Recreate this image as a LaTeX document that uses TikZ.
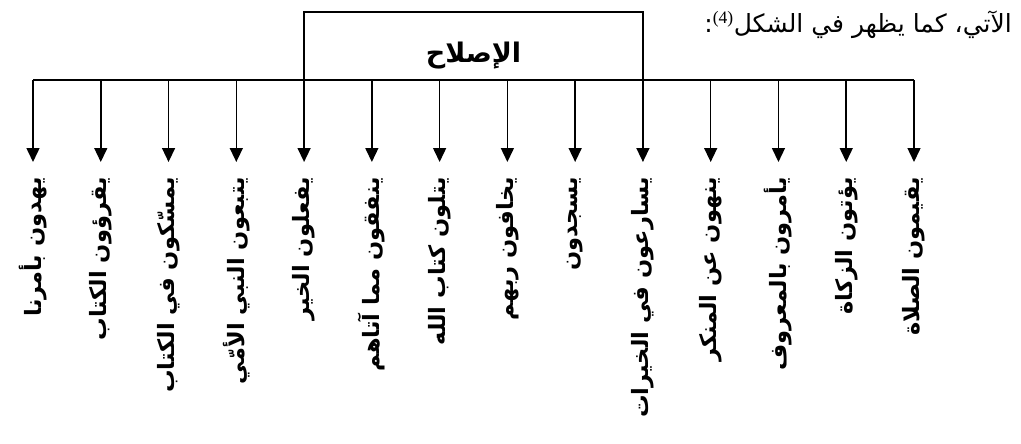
\documentclass[tikz,border=0pt]{standalone}
\usepackage{fontspec}
\usetikzlibrary{arrows.meta}
\TeXXeTstate=1
\newfontfamily\arabicfont[Script=Arabic,BoldFont={DejaVu Sans Bold}]{DejaVu Sans}
\newfontfamily\supfont{Liberation Serif}
\newcommand\lblfont{\arabicfont\bfseries\fontsize{22.5}{26}\selectfont}
\begin{document}
\begin{tikzpicture}[x=1pt,y=-1pt,
  busline/.style={line width=1.5pt},
  arr/.style={line width=1.5pt,-{Triangle[length=14pt,width=13pt]},shorten >=15pt},
  lbl/.style={rotate=90, anchor=east, inner sep=0pt},
  rootbox/.style={draw, line width=1.5pt, minimum width=339pt, minimum height=68pt, inner sep=0pt},
  roottitle/.style={inner sep=0pt},
  introtext/.style={anchor=base east, inner sep=0pt}]
\useasboundingbox (0,0) rectangle (1021,444);
\node[introtext] (intro) at (1012,33) {\arabicfont\fontsize{25}{29}\selectfont\beginR الآتي، كما يظهر في الشكل\textsuperscript{\supfont(4)}:\endR};
\node[rootbox] (root) at (473.5,46) {};
\node[roottitle] (title) at ([yshift=-10pt]root.center) {\arabicfont\bfseries\fontsize{27}{30}\selectfont\beginR الإصلاح\endR};
\coordinate (bl) at (33,80);
\coordinate (br) at (914,80);
\draw[busline] (bl) -- (br);
\foreach \i/\lab in {1/يهدون بأمرنا,2/يقرؤون الكتاب,3/يمسّكون في الكتاب,4/يتبعون النبي الأمّي,5/يفعلون الخير,6/ينفقون مما آتاهم,7/يتلون كتاب الله,8/يخافون ربهم,9/يسجدون,10/يسارعون في الخيرات,11/ينهون عن المنكر,12/يأمرون بالمعروف,13/يؤتون الزكاة,14/يقيمون الصلاة}{
  \pgfmathsetmacro{\xx}{33+(\i-1)*67.77}
  \coordinate (b\i) at (\xx,80);
  \node[lbl] (l\i) at (\xx,177) {\lblfont\beginR \lab\endR};
  \draw[arr] (b\i) -- (l\i.east);
}
\end{tikzpicture}
\end{document}
